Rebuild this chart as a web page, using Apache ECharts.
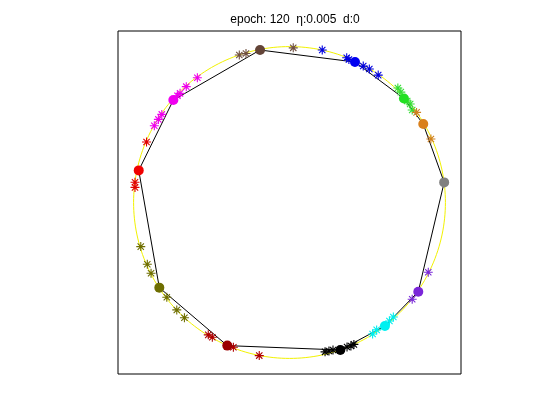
<!DOCTYPE html>
<html>
<head>
<meta charset="utf-8">
<script src="https://cdn.jsdelivr.net/npm/echarts@6/dist/echarts.min.js"></script>
<style>html,body{margin:0;padding:0;background:#fff;}#c{width:560px;height:420px;}</style>
</head>
<body>
<div id="c"></div>
<script>
// Title
const titleText = 'epoch: 120  \u03b7:0.005  d:0';

// Nodes (large dots), in ring order
const nodeX = [-0.189, 0.420, 0.734, 0.858, 0.992, 0.826, 0.612, 0.326, -0.399, -0.835, -0.967, -0.745];
const nodeY = [0.978, 0.901, 0.667, 0.503, 0.129, -0.572, -0.792, -0.946, -0.918, -0.546, 0.206, 0.657];

// Samples (asterisks), with index of the node they belong to
const sampleX = [
  -0.322, -0.279, 0.024,
  0.210, 0.367, 0.381, 0.473, 0.512, 0.569,
  0.695, 0.714, 0.755, 0.774, 0.787,
  0.815, 0.907,
  0.890, 0.787,
  0.666, 0.641, 0.559, 0.533,
  0.228, 0.253, 0.279, 0.369, 0.394, 0.413,
  -0.521, -0.495, -0.360, -0.194,
  -0.954, -0.912, -0.888, -0.787, -0.723, -0.674,
  -0.917, -0.991, -0.991,
  -0.591, -0.662, -0.702, -0.719, -0.819, -0.841, -0.867
];
const sampleY = [
  0.946, 0.956, 0.992,
  0.978, 0.928, 0.917, 0.875, 0.856, 0.817,
  0.734, 0.708, 0.651, 0.632, 0.593,
  0.578, 0.407,
  -0.447, -0.621,
  -0.734, -0.760, -0.817, -0.843,
  -0.958, -0.952, -0.946, -0.927, -0.920, -0.910,
  -0.849, -0.864, -0.928, -0.982,
  -0.283, -0.396, -0.454, -0.608, -0.689, -0.739,
  0.388, 0.130, 0.097,
  0.800, 0.743, 0.700, 0.685, 0.565, 0.533, 0.492
];
const sampleCluster = [
  0, 0, 0,
  1, 1, 1, 1, 1, 1,
  2, 2, 2, 2, 2,
  3, 3,
  5, 5,
  6, 6, 6, 6,
  7, 7, 7, 7, 7, 7,
  8, 8, 8, 8,
  9, 9, 9, 9, 9, 9,
  10, 10, 10,
  11, 11, 11, 11, 11, 11, 11
];

// Styles
const nodeColors = ['#634438', '#0000f0', '#22e022', '#d9801c', '#808080', '#7b26d9',
                    '#00f0f0', '#000000', '#9b0000', '#6e6e00', '#f00000', '#f000f0'];
const starColors = ['#705040', '#0000e0', '#33dd33', '#d08020', '#808080', '#7a2ad8',
                    '#00eeee', '#000000', '#b00000', '#6e6e00', '#e00000', '#ee00ee'];

const AX = [-1.1, 1.1];
const starPath = 'path://M5,0L5,10M0,5L10,5M1.5,1.5L8.5,8.5M1.5,8.5L8.5,1.5';

// yellow unit circle (reference guide)
const circle = [];
for (let i = 0; i <= 240; i++) {
  const t = i / 240 * Math.PI * 2;
  circle.push([Math.cos(t), Math.sin(t)]);
}

const ring = nodeX.map((x, i) => [x, nodeY[i]]);
ring.push([nodeX[0], nodeY[0]]);

const series = [
  { type: 'line', data: circle, showSymbol: false, symbol: 'none', silent: true,
    lineStyle: { color: '#f2f200', width: 1 }, z: 1, animation: false },
  { type: 'line', data: ring, showSymbol: false, symbol: 'none', silent: true,
    lineStyle: { color: '#000', width: 1 }, z: 2, animation: false }
];

starColors.forEach((c, k) => {
  const pts = [];
  sampleX.forEach((x, i) => { if (sampleCluster[i] === k) pts.push([x, sampleY[i]]); });
  if (pts.length) series.push({
    type: 'scatter', data: pts, symbol: starPath, symbolSize: 9, symbolKeepAspect: true,
    itemStyle: { color: 'rgba(0,0,0,0)', borderColor: c, borderWidth: 1.1, opacity: 1 }, z: 3, animation: false
  });
});

series.push({
  type: 'scatter', data: nodeX.map((x, i) => ({ value: [x, nodeY[i]], itemStyle: { color: nodeColors[i], opacity: 1 } })),
  symbol: 'circle', symbolSize: 10, itemStyle: { opacity: 1 }, z: 4, animation: false
});

const chart = echarts.init(document.getElementById('c'), null, { renderer: 'canvas' });
chart.setOption({
  backgroundColor: '#ffffff',
  animation: false,
  title: { text: titleText, left: 290, top: 9, textAlign: 'center',
    textStyle: { fontFamily: 'Liberation Sans, Arial, sans-serif', fontSize: 12, fontWeight: 'normal', color: '#000' } },
  grid: { left: 118, top: 31, width: 343, height: 343, show: true, borderColor: '#000', borderWidth: 1, backgroundColor: '#fff' },
  xAxis: { type: 'value', min: AX[0], max: AX[1], show: false, splitLine: { show: false } },
  yAxis: { type: 'value', min: AX[0], max: AX[1], show: false, splitLine: { show: false } },
  series: series
});
</script>
</body>
</html>
